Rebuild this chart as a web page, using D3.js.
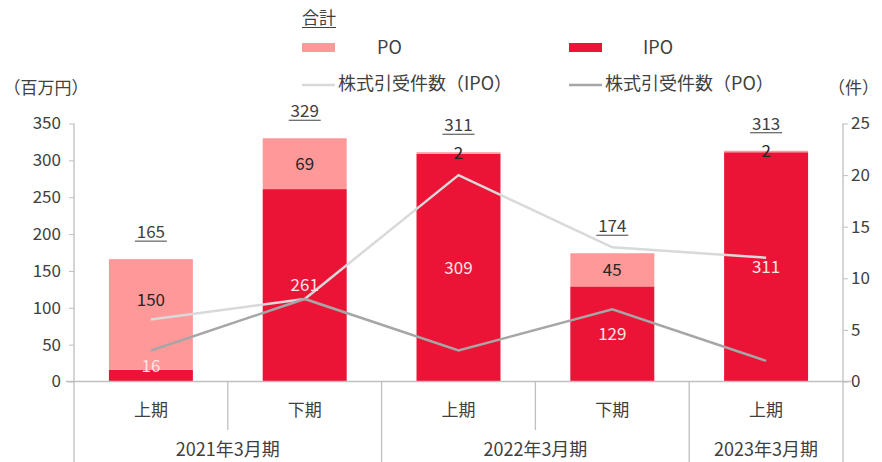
<!DOCTYPE html>
<html>
<head>
<meta charset="utf-8">
<script src="https://cdn.jsdelivr.net/npm/d3@7"></script>
<style>
  body { margin: 0; background: #fff; }
  text { font-family: "Noto Sans CJK JP", "Noto Sans", sans-serif; }
</style>
</head>
<body>
<div id="container"></div>
<script>
// data
const halves = ["上期", "下期", "上期", "下期", "上期"]
const years = ["2021年3月期", "2022年3月期", "2023年3月期"]
const yearSpan = [[0, 1], [2, 3], [4, 4]] // category index range for each year
const poValues = [150, 69, 2, 45, 2]
const ipoValues = [16, 261, 309, 129, 311]
const totals = [165, 329, 311, 174, 313]
const ipoCount = [6, 8, 20, 13, 12]
const poCount = [3, 8, 3, 7, 2]
const leftTicks = [0, 50, 100, 150, 200, 250, 300, 350]
const rightTicks = [0, 5, 10, 15, 20, 25]

// constants
const width = 882,
  height = 462,
  margin = { top: 123.5, bottom: 80.5, left: 74, right: 39 },
  ipoColor = "#EB1436",
  poColor = "#FF9999",
  ipoLineColor = "#D9D9D9",
  poLineColor = "#A6A6A6",
  axisColor = "#BFBFBF",
  textColor = "#404040",
  fontSize = 17

const idx = halves.map((d, i) => i)

const svg = d3.select("#container")
  .append("svg")
  .attr("width", width)
  .attr("height", height)

// scales
const xScale = d3.scaleBand()
  .domain(idx)
  .range([margin.left, width - margin.right])
  .paddingInner(0.454)
  .paddingOuter(0.227)

const yScale = d3.scaleLinear()
  .domain([0, 350])
  .range([height - margin.bottom, margin.top])

const y2Scale = d3.scaleLinear()
  .domain([0, 25])
  .range([height - margin.bottom, margin.top])

const cx = i => xScale(i) + xScale.bandwidth() / 2
const x0 = margin.left, x1 = width - margin.right
const base = yScale(0)

// bars
const stacked = idx.map(i => ({ i, ipo: ipoValues[i], po: poValues[i] }))

svg.append("g")
  .selectAll("rect")
  .data(stacked)
  .join("rect")
  .attr("x", d => xScale(d.i))
  .attr("width", xScale.bandwidth())
  .attr("y", d => yScale(d.ipo))
  .attr("height", d => base - yScale(d.ipo))
  .attr("fill", ipoColor)

svg.append("g")
  .selectAll("rect")
  .data(stacked)
  .join("rect")
  .attr("x", d => xScale(d.i))
  .attr("width", xScale.bandwidth())
  .attr("y", d => yScale(d.ipo + d.po))
  .attr("height", d => yScale(d.ipo) - yScale(d.ipo + d.po))
  .attr("fill", poColor)

// left axis
const yAxis = d3.axisLeft(yScale).tickValues(leftTicks).tickSize(5).tickPadding(8)
const gy = svg.append("g")
  .attr("transform", `translate(${x0},0)`)
  .call(yAxis)
gy.select(".domain").remove()
gy.selectAll("line").attr("stroke", axisColor)
gy.selectAll("text").attr("fill", textColor).attr("font-size", fontSize)

// right axis
const y2Axis = d3.axisRight(y2Scale).tickValues(rightTicks).tickSize(5).tickPadding(3)
const gy2 = svg.append("g")
  .attr("transform", `translate(${x1},0)`)
  .call(y2Axis)
gy2.select(".domain").remove()
gy2.selectAll("line").attr("stroke", axisColor)
gy2.selectAll("text").attr("fill", textColor).attr("font-size", fontSize)

// axis lines
const lines = svg.append("g").attr("stroke", axisColor).attr("stroke-width", 1.3)
lines.append("line").attr("x1", x0).attr("x2", x0).attr("y1", margin.top).attr("y2", height)
lines.append("line").attr("x1", x1).attr("x2", x1).attr("y1", margin.top).attr("y2", height)
lines.append("line").attr("x1", x0 - 8).attr("x2", x1 + 8).attr("y1", base).attr("y2", base)

// category dividers
idx.slice(1).forEach(i => {
  const isYear = yearSpan.some(s => s[0] === i)
  const xd = xScale(i) - xScale.step() * xScale.paddingInner() / 2
  lines.append("line")
    .attr("x1", xd)
    .attr("x2", xd)
    .attr("y1", base)
    .attr("y2", isYear ? height : 430)
})

// category labels
svg.append("g")
  .selectAll("text")
  .data(halves)
  .join("text")
  .attr("x", (d, i) => cx(i))
  .attr("y", 410)
  .attr("dy", "0.35em")
  .attr("text-anchor", "middle")
  .attr("font-size", fontSize)
  .attr("fill", textColor)
  .text(d => d)

svg.append("g")
  .selectAll("text")
  .data(years)
  .join("text")
  .attr("x", (d, i) => (cx(yearSpan[i][0]) + cx(yearSpan[i][1])) / 2)
  .attr("y", 450)
  .attr("dy", "0.35em")
  .attr("text-anchor", "middle")
  .attr("font-size", 18)
  .attr("fill", textColor)
  .text(d => d)

// count lines
const line = d3.line().x((d, i) => cx(i)).y(d => y2Scale(d))

svg.append("path")
  .datum(ipoCount)
  .attr("d", line)
  .attr("fill", "none")
  .attr("stroke", ipoLineColor)
  .attr("stroke-width", 2.5)

svg.append("path")
  .datum(poCount)
  .attr("d", line)
  .attr("fill", "none")
  .attr("stroke", poLineColor)
  .attr("stroke-width", 2.5)

// value labels
svg.append("g")
  .selectAll("text")
  .data(stacked)
  .join("text")
  .attr("x", d => cx(d.i))
  .attr("y", d => (yScale(d.ipo) + yScale(d.ipo + d.po)) / 2 + (d.i === 0 ? -14 : 0))
  .attr("dy", "0.35em")
  .attr("text-anchor", "middle")
  .attr("font-size", fontSize)
  .attr("fill", "#262626")
  .text(d => d.po)

svg.append("g")
  .selectAll("text")
  .data(stacked)
  .join("text")
  .attr("x", d => cx(d.i))
  .attr("y", d => Math.min((base + yScale(d.ipo)) / 2, base - 15))
  .attr("dy", "0.35em")
  .attr("text-anchor", "middle")
  .attr("font-size", fontSize)
  .attr("fill", "#FDE3E7")
  .text(d => d.ipo)

// totals (underlined)
const tot = svg.append("g")
  .selectAll("g")
  .data(totals)
  .join("g")
  .attr("transform", (d, i) => `translate(${cx(i)},${yScale(d3.max([totals[i], ipoValues[i] + poValues[i]])) - 27})`)

tot.append("text")
  .attr("dy", "0.35em")
  .attr("text-anchor", "middle")
  .attr("font-size", fontSize)
  .attr("fill", textColor)
  .text(d => d)

tot.append("line")
  .attr("x1", -16).attr("x2", 16)
  .attr("y1", 9).attr("y2", 9)
  .attr("stroke", textColor)
  .attr("stroke-width", 1)

// axis titles
svg.append("text")
  .attr("x", 46).attr("y", 88)
  .attr("dy", "0.35em")
  .attr("text-anchor", "middle")
  .attr("font-size", fontSize)
  .attr("fill", textColor)
  .text("（百万円）")

svg.append("text")
  .attr("x", 879).attr("y", 88)
  .attr("dy", "0.35em")
  .attr("text-anchor", "end")
  .attr("font-size", fontSize)
  .attr("fill", textColor)
  .text("（件）")

// legend
const legend = svg.append("g")

legend.append("text")
  .attr("x", 302).attr("y", 18)
  .attr("dy", "0.35em")
  .attr("font-size", fontSize)
  .attr("fill", textColor)
  .text("合計")
legend.append("line")
  .attr("x1", 302).attr("x2", 336)
  .attr("y1", 27.5).attr("y2", 27.5)
  .attr("stroke", textColor)

const swatches = [
  { x: 302, label: "PO", tx: 377, color: poColor },
  { x: 569, label: "IPO", tx: 643, color: ipoColor }
]
swatches.forEach(s => {
  legend.append("rect")
    .attr("x", s.x).attr("y", 43)
    .attr("width", 33).attr("height", 9)
    .attr("fill", s.color)
  legend.append("text")
    .attr("x", s.tx).attr("y", 47.5)
    .attr("dy", "0.35em")
    .attr("font-size", 18)
    .attr("fill", textColor)
    .text(s.label)
})

const lineKeys = [
  { x: 302, label: "株式引受件数（IPO）", color: ipoLineColor },
  { x: 569, label: "株式引受件数（PO）", color: poLineColor }
]
lineKeys.forEach(s => {
  legend.append("line")
    .attr("x1", s.x).attr("x2", s.x + 33)
    .attr("y1", 85).attr("y2", 85)
    .attr("stroke", s.color)
    .attr("stroke-width", 2.5)
  legend.append("text")
    .attr("x", s.x + 36).attr("y", 84)
    .attr("dy", "0.35em")
    .attr("font-size", 18)
    .attr("fill", textColor)
    .text(s.label)
})
</script>
</body>
</html>
